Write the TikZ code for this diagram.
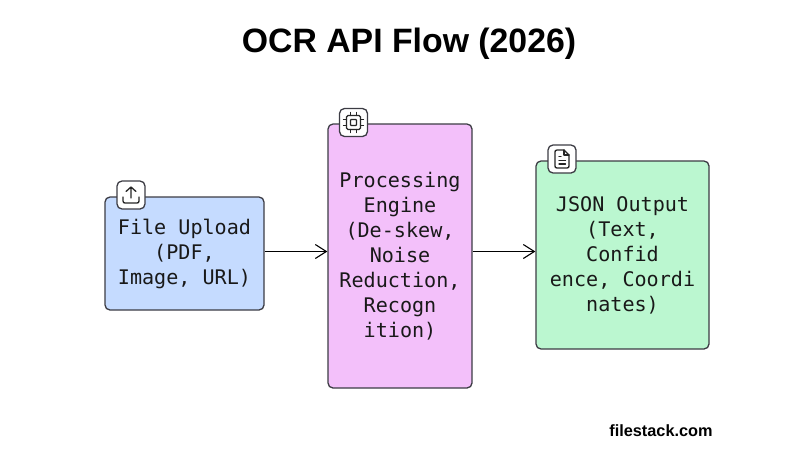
\documentclass[tikz,border=0pt]{standalone}
\usepackage{fontspec}
\setmainfont{Liberation Sans}
\newfontfamily\boxfont{DejaVu Sans Mono}
\usetikzlibrary{arrows.meta}
\definecolor{edgeink}{HTML}{3C3C44}
\definecolor{bluefill}{HTML}{C5DBFF}
\definecolor{pinkfill}{HTML}{F3C0FA}
\definecolor{greenfill}{HTML}{BBF7D0}
\tikzset{
  flowbox/.style={draw=edgeink,line width=1.3pt,rounded corners=5pt,inner sep=0pt,align=center,
    font=\boxfont\fontsize{20.1}{25}\selectfont,text=black!90},
  iconbox/.style={draw=edgeink,line width=1.3pt,fill=white,rounded corners=5pt,minimum width=28pt,minimum height=28pt,inner sep=0pt},
  flowarrow/.style={draw=black,line width=1.1pt,-{Straight Barb[length=11pt,width=14pt,line width=1.1pt]}},
  iconline/.style={draw=black!85,line width=1.3pt,line cap=round,line join=round}
}
\begin{document}
\begin{tikzpicture}[x=1pt,y=-1pt]
\useasboundingbox (0,0) rectangle (803,458);
\node[font=\bfseries\fontsize{33.8}{36}\selectfont,anchor=center] (title) at (409,43.5) {OCR API Flow (2026)};
\node[flowbox,fill=bluefill,minimum width=159pt,minimum height=113pt] (upload) at (184.5,253.5) {File Upload\\(PDF,\\Image, URL)};
\node[flowbox,fill=pinkfill,minimum width=144pt,minimum height=264pt] (engine) at (400,256) {Processing\\Engine\\(De-skew,\\Noise\\Reduction,\\Recogn\\ition)};
\node[flowbox,fill=greenfill,minimum width=173pt,minimum height=188pt] (output) at (622.5,255) {JSON Output\\(Text,\\Confid\\ence, Coordi\\nates)};
\node[iconbox] (iconA) at (131,195) {};
\node[iconbox] (iconB) at (353.5,122.5) {};
\node[iconbox] (iconC) at (562,159) {};
\coordinate (arrowA) at (upload.east |- 0,251.5);
\coordinate (arrowB) at (engine.east |- 0,251.5);
\draw[flowarrow] (arrowA) -- (engine.west |- arrowA);
\draw[flowarrow] (arrowB) -- (output.west |- arrowB);
% upload icon
\begin{scope}[shift={(iconA.center)}]
\draw[iconline] (-8,2) -- (-8,6) .. controls (-8,7.5) and (-7,8) .. (-6,8) -- (6,8) .. controls (7,8) and (8,7.5) .. (8,6) -- (8,2);
\draw[iconline] (0,3) -- (0,-8) (-5,-3.5) -- (0,-8) -- (5,-3.5);
\end{scope}
% chip icon
\begin{scope}[shift={(iconB.center)}]
\draw[iconline,rounded corners=1.5pt] (-7,-7) rectangle (7,7);
\draw[iconline,rounded corners=.8pt] (-3,-3) rectangle (3,3);
\draw[iconline] (-3,-7) -- (-3,-10) (3,-7) -- (3,-10) (-3,7) -- (-3,10) (3,7) -- (3,10)
 (-7,-3) -- (-10,-3) (-7,3) -- (-10,3) (7,-3) -- (10,-3) (7,3) -- (10,3);
\end{scope}
% document icon
\begin{scope}[shift={(iconC.center)}]
\draw[iconline] (2,-9) -- (-5,-9) .. controls (-6.5,-9) and (-7,-8) .. (-7,-7) -- (-7,7) .. controls (-7,8) and (-6.5,9) .. (-5,9) -- (5,9) .. controls (6.5,9) and (7,8) .. (7,7) -- (7,-4) -- cycle;
\draw[iconline] (2,-9) -- (2,-4) -- (7,-4);
\draw[iconline] (-3,-2.5) -- (-1,-2.5) (-3,1.5) -- (3.5,1.5) (-3,5) -- (3.5,5);
\end{scope}
\node[font=\bfseries\fontsize{16.3}{18}\selectfont,anchor=center] (brand) at (661,431) {filestack.com};
\end{tikzpicture}
\end{document}
